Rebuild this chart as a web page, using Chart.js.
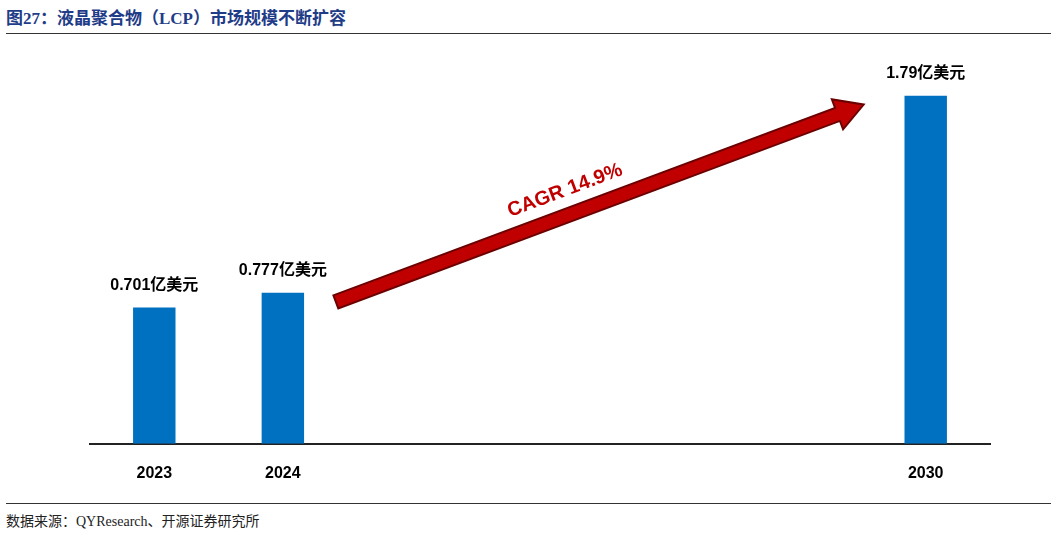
<!DOCTYPE html>
<html><head><meta charset="utf-8">
<script src="https://cdn.jsdelivr.net/npm/chart.js@4/dist/chart.umd.min.js"></script>
<style>
body{margin:0;width:1057px;height:534px;background:#fff;position:relative;overflow:hidden;font-family:"Noto Sans CJK SC",sans-serif}
#title{position:absolute;left:6px;top:4px;font:bold 17px "Liberation Serif","Noto Sans CJK SC";color:#1f3c88}
#l1{position:absolute;left:6px;right:6px;top:33px;border-top:1px solid #333}
#l2{position:absolute;left:6px;right:6px;top:503px;border-top:1px solid #333}
#src{position:absolute;left:6px;top:510px;font:14px "Liberation Serif","Noto Sans CJK SC";color:#222}
#wrap{position:absolute;left:0;top:40px;width:1057px;height:455px}
</style></head><body>
<div id="title">图27：液晶聚合物（LCP）市场规模不断扩容</div>
<div id="l1"></div>
<div id="wrap"><canvas id="c"></canvas></div>
<div id="l2"></div>
<div id="src">数据来源：QYResearch、开源证券研究所</div>
<script>
const years = ['2023','2024','','','','','2030'];
const values = [0.701,0.777,null,null,null,null,1.79];
const valueLabels = ['0.701亿美元','0.777亿美元','','','','','1.79亿美元'];
const cagrText = 'CAGR 14.9%';

const extras = {
  id:'extras',
  afterDatasetsDraw(chart){
    const {ctx, scales:{x,y}} = chart;
    const meta = chart.getDatasetMeta(0);
    ctx.save();
    ctx.fillStyle='#000';
    ctx.font='bold 16px "Liberation Sans","Noto Sans CJK SC"';
    ctx.textAlign='center';ctx.textBaseline='bottom';
    meta.data.forEach((b,i)=>{ if(values[i]!=null) ctx.fillText(valueLabels[i], b.x, b.y-14); });
    // arrow
    const x0=x.getPixelForValue(1)+53, y0=y.getPixelForValue(0.73);
    const x1=x.getPixelForValue(6)-62, y1=y.getPixelForValue(1.745);
    const ang=Math.atan2(y1-y0,x1-x0), len=Math.hypot(x1-x0,y1-y0);
    ctx.translate(x0,y0);ctx.rotate(ang);
    const sh=7, hw=16, hl=28;
    ctx.beginPath();
    ctx.moveTo(0,-sh);ctx.lineTo(len-hl,-sh);ctx.lineTo(len-hl,-hw);ctx.lineTo(len,0);
    ctx.lineTo(len-hl,hw);ctx.lineTo(len-hl,sh);ctx.lineTo(0,sh);ctx.closePath();
    ctx.fillStyle='#c00000';ctx.fill();
    ctx.lineWidth=2;ctx.strokeStyle='#6b0000';ctx.stroke();
    ctx.fillStyle='#c00000';
    ctx.font='bold 20px "Liberation Sans"';
    ctx.textBaseline='bottom';
    ctx.fillText(cagrText, len*0.45, -14);
    ctx.restore();
  }
};

new Chart('c',{
  type:'bar',
  data:{labels:years,datasets:[{data:values,backgroundColor:'#0070c0',barPercentage:0.33,categoryPercentage:1}]},
  options:{
    maintainAspectRatio:false,responsive:true,animation:false,
    plugins:{legend:{display:false},tooltip:{enabled:false}},
    layout:{padding:{left:90,right:67,top:15}},
    scales:{
      x:{grid:{display:false},border:{color:'#222',width:2},
         ticks:{color:'#000',font:{weight:'bold',size:16,family:'Liberation Sans'},padding:12}},
      y:{display:false,min:0,max:2}
    }
  },
  plugins:[extras]
});
</script>
</body></html>
